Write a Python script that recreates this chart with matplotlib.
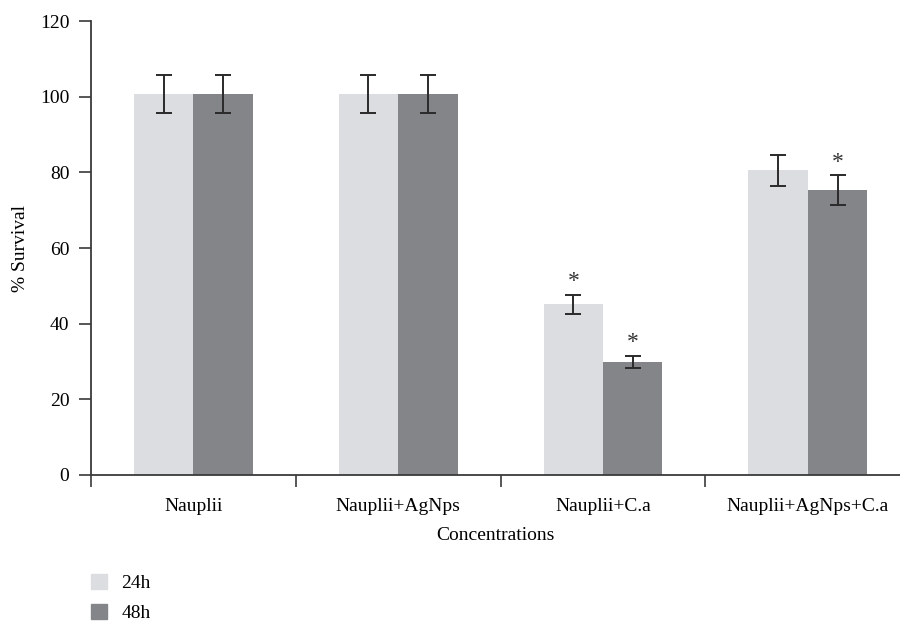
import numpy as np
import matplotlib
matplotlib.use("Agg")
import matplotlib.pyplot as plt
from matplotlib.patches import Patch

categories = ["Nauplii", "Nauplii+AgNps", "Nauplii+C.a", "Nauplii+AgNps+C.a"]
survival_24h = [100.7, 100.7, 45.1, 80.6]
survival_48h = [100.7, 100.7, 29.9, 75.3]
err_24h = [5.0, 5.0, 2.5, 4.1]
err_48h = [5.0, 5.0, 1.6, 3.9]
signif_24h = [False, False, True, False]
signif_48h = [False, False, True, True]

plt.rcParams["font.family"] = ["Liberation Serif", "DejaVu Serif"]

c24 = "#dcdde0"
c48 = "#848589"
axis_col = "#3a3a3a"
fs = 14

fig = plt.figure(figsize=(9, 6.24), dpi=100)
ax = fig.add_axes([0.101, 0.239, 0.899, 0.727])

x = np.arange(len(categories))
w = 0.29
ekw = dict(ecolor="#2a2a2a", elinewidth=1.4, capthick=1.4)
ax.bar(x - w / 2, survival_24h, w, color=c24, yerr=err_24h, capsize=6, error_kw=ekw)
ax.bar(x + w / 2, survival_48h, w, color=c48, yerr=err_48h, capsize=6, error_kw=ekw)

for i in range(len(categories)):
    if signif_24h[i]:
        ax.text(x[i] - w / 2, survival_24h[i] + err_24h[i] + 3.6, "*",
                ha="center", va="center", fontsize=17, color="#333333")
    if signif_48h[i]:
        ax.text(x[i] + w / 2, survival_48h[i] + err_48h[i] + 3.4, "*",
                ha="center", va="center", fontsize=17, color="#333333")

ax.set_xlim(-0.5, 3.45)
ax.set_ylim(0, 120)
ax.set_yticks(range(0, 121, 20))
ax.set_xticks(x)
ax.set_xticklabels(categories, fontsize=fs)
ax.set_xticks([-0.5, 0.5, 1.5, 2.5], minor=True)
ax.tick_params(axis="x", which="major", length=0, pad=17)
ax.tick_params(axis="x", which="minor", length=8.5, width=1.2, color=axis_col, direction="out")
ax.tick_params(axis="y", length=8.5, width=1.2, color=axis_col, labelsize=fs, pad=7)

for s in ["top", "right"]:
    ax.spines[s].set_visible(False)
for s in ["left", "bottom"]:
    ax.spines[s].set_color(axis_col)
    ax.spines[s].set_linewidth(1.3)

ax.set_ylabel("% Survival", fontsize=fs, labelpad=8)
ax.set_xlabel("Concentrations", fontsize=fs, labelpad=8)

handles = [Patch(color=c24, label="24h"), Patch(color=c48, label="48h")]
fig.legend(handles=handles, loc="upper left", bbox_to_anchor=(0.101, 1 - 574 / 624),
           frameon=False, fontsize=fs, handlelength=0.82, handleheight=0.82,
           handletextpad=0.75, labelspacing=0.6, borderpad=0, borderaxespad=0)

plt.savefig("out.png", dpi=100)
